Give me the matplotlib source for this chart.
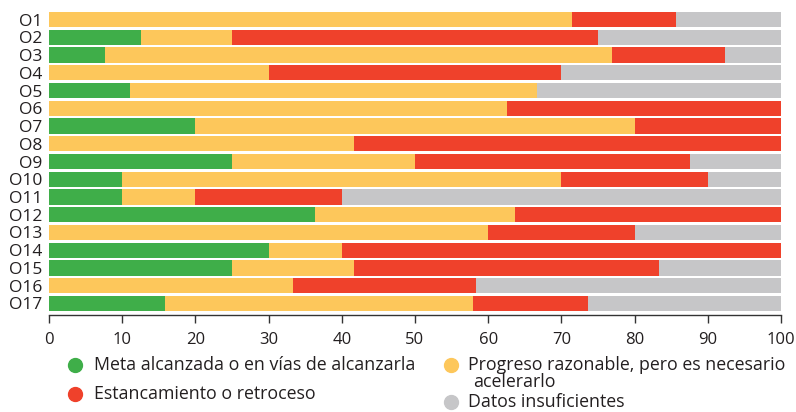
import matplotlib
matplotlib.use("Agg")
import matplotlib.pyplot as plt
from matplotlib.lines import Line2D
import numpy as np

plt.rcParams['font.family'] = ['Open Sans', 'DejaVu Sans']

categories = ["O1", "O2", "O3", "O4", "O5", "O6", "O7", "O8", "O9",
              "O10", "O11", "O12", "O13", "O14", "O15", "O16", "O17"]
meta = [0, 12.5, 7.7, 0, 11.1, 0, 20, 0, 25, 10, 10, 36.4, 0, 30, 25, 0, 15.8]
progreso = [71.4, 12.5, 69.2, 30, 55.6, 62.5, 60, 41.7, 25, 60, 10, 27.3, 60, 10, 16.7, 33.3, 42.1]
estancamiento = [14.3, 50, 15.4, 40, 0, 37.5, 20, 58.3, 37.5, 20, 20, 36.3, 20, 60, 41.6, 25, 15.8]
datos = [14.3, 25, 7.7, 30, 33.3, 0, 0, 0, 12.5, 10, 60, 0, 20, 0, 16.7, 41.7, 26.3]
xticks = [0, 10, 20, 30, 40, 50, 60, 70, 80, 90, 100]

series = [
    ("Meta alcanzada o en vías de alcanzarla", meta, "#3fae49"),
    ("Progreso razonable, pero es necesario\nacelerarlo", progreso, "#fdc75b"),
    ("Estancamiento o retroceso", estancamiento, "#ef412b"),
    ("Datos insuficientes", datos, "#c6c6c8"),
]

text_color = "#231f20"

fig = plt.figure(figsize=(7.96, 4.12), dpi=100)
ax = fig.add_axes([49/796, 1-315/412, (781-49)/796, 303/412])

y = np.arange(len(categories))
left = np.zeros(len(categories))
for label, vals, color in series:
    vals = np.array(vals, dtype=float)
    ax.barh(y, vals, left=left, height=0.85, color=color, linewidth=0)
    left += vals

ax.set_xlim(0, 100)
ax.set_ylim(16.65, -0.425)
ax.set_yticks(y)
ax.set_yticklabels(categories)
ax.set_xticks(xticks)
ax.set_xticklabels([str(t) for t in xticks])
for s in ["top", "right", "left"]:
    ax.spines[s].set_visible(False)
ax.spines["bottom"].set_color("#333333")
ax.spines["bottom"].set_linewidth(1.0)
ax.tick_params(axis="y", length=0, pad=5, labelsize=12.5, labelcolor=text_color)
ax.tick_params(axis="x", length=6, width=1, color="#333333", pad=6,
               labelsize=12, labelcolor=text_color)

# Legend (manual layout)
legend_items = [
    (75, 365, 94, series[0][0], series[0][2]),
    (451, 365, 468, series[1][0], series[1][2]),
    (75, 394, 94, series[2][0], series[2][2]),
    (451, 402, 468, series[3][0], series[3][2]),
]
for cx, cy, tx, label, color in legend_items:
    fig.add_artist(Line2D([cx/796], [1-cy/412], marker="o", markersize=10,
                          color=color, linestyle="none", transform=fig.transFigure))
    lines = label.split("\n")
    fig.text(tx/796, 1-cy/412, lines[0], fontsize=12.8, color=text_color,
             va="center", ha="left")
    if len(lines) > 1:
        fig.text((tx+5)/796, 1-(cy+17)/412, lines[1], fontsize=12.8,
                 color=text_color, va="center", ha="left")

fig.savefig("out.png", dpi=100)
